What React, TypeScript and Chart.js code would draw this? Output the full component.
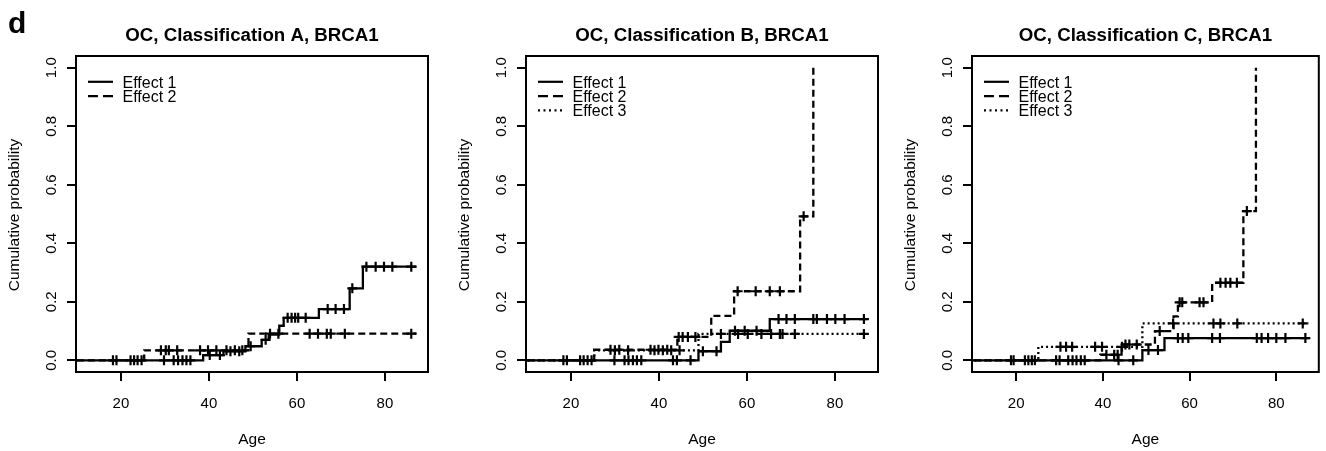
import React, { useEffect, useRef } from "react";
import { Chart, registerables } from "chart.js";
Chart.register(...registerables);

const FONT = "'Liberation Sans', Arial, Helvetica, sans-serif";

// ---- axes ----
const xTicks = [20, 40, 60, 80];
const yTicks = [0, 0.2, 0.4, 0.6, 0.8, 1.0];
const yTickLabels = ["0.0", "0.2", "0.4", "0.6", "0.8", "1.0"];
const effectNames = ["Effect 1", "Effect 2", "Effect 3"];
const panelTitles = [
  "OC, Classification A, BRCA1",
  "OC, Classification B, BRCA1",
  "OC, Classification C, BRCA1",
];

// ---- Panel A ----
const ageA1 = [0, 38.7, 43.3, 48.3, 52.0, 53.6, 56.0, 57.0, 65.0, 72.0, 75.0, 87.2];
const probA1 = [0, 0.018, 0.031, 0.048, 0.07, 0.088, 0.118, 0.145, 0.175, 0.246, 0.32, 0.32];
const censA1 = [18.2, 19.0, 22.2, 23.0, 23.8, 24.7, 29.8, 32.0, 33.0, 34.0, 34.9, 35.8, 40.2, 42.5, 44.9, 46.9, 49.5, 52.9, 57.9, 58.8, 59.6, 60.3, 62.0, 67.0, 68.8, 70.7, 72.6, 75.8, 77.9, 79.8, 81.7, 86.0];
const ageA2 = [0, 25.3, 49.0, 87.2];
const probA2 = [0, 0.034, 0.091, 0.091];
const censA2 = [29.1, 30.2, 30.9, 32.8, 38.0, 39.8, 41.7, 44.0, 45.9, 47.6, 53.9, 55.8, 62.9, 64.8, 66.8, 67.7, 70.9, 86.0];

// ---- Panel B ----
const ageB1 = [0, 49.0, 54.1, 56.1, 65.2, 87.2];
const probB1 = [0, 0.031, 0.063, 0.101, 0.141, 0.141];
const censB1 = [18.3, 19.1, 22.1, 22.9, 23.8, 24.7, 29.9, 32.2, 33.1, 34.1, 35.0, 36.0, 43.2, 44.1, 47.2, 50.0, 53.1, 57.3, 59.5, 62.2, 67.2, 69.0, 70.9, 75.1, 75.9, 78.2, 80.1, 82.2, 86.6];
const ageB2 = [0, 25.3, 44.2, 51.9, 57.1, 72.1, 75.1];
const probB2 = [0, 0.036, 0.08, 0.152, 0.236, 0.492, 1.0];
const censB2 = [29.0, 31.0, 38.1, 39.9, 41.9, 44.5, 45.4, 46.6, 48.3, 57.9, 62.0, 65.2, 67.5, 72.9];
const ageB3 = [0, 25.3, 49.0, 87.0];
const probB3 = [0, 0.034, 0.09, 0.09];
const censB3 = [30.0, 33.0, 39.0, 40.9, 42.8, 44.7, 54.1, 58.0, 60.2, 63.3, 65.5, 67.5, 68.1, 70.9, 86.6];

// ---- Panel C ----
const ageC1 = [0, 49.1, 54.2, 87.4];
const probC1 = [0, 0.035, 0.076, 0.076];
const censC1 = [18.8, 19.4, 22.0, 22.8, 23.6, 24.3, 29.2, 30.0, 32.0, 33.0, 33.9, 34.9, 35.8, 43.6, 47.0, 50.5, 52.7, 57.3, 58.4, 59.7, 65.2, 67.0, 75.5, 76.6, 78.1, 80.0, 82.1, 86.7];
const ageC2 = [0, 39.4, 44.3, 52.0, 56.3, 57.3, 65.2, 72.4, 75.3];
const probC2 = [0, 0.019, 0.054, 0.1, 0.15, 0.198, 0.265, 0.51, 1.0];
const censC2 = [40.8, 42.6, 43.4, 45.2, 46.1, 47.8, 53.1, 57.7, 58.3, 62.3, 63.2, 67.1, 68.3, 69.4, 70.9, 73.2];
const ageC3 = [0, 25.1, 49.1, 87.4];
const probC3 = [0, 0.046, 0.126, 0.126];
const censC3 = [30.2, 31.5, 32.9, 38.2, 39.8, 44.4, 56.2, 65.5, 67.1, 71.0, 86.1];

const curveDash = [[], [7, 4], [2, 3]];
const legendDash = [[], [10, 5], [2, 3.5]];

type Curve = { ages: number[]; probs: number[]; cens: number[] };
type Panel = { title: string; left: number; width: number; plotRight: number; curves: Curve[]; tag?: string };

const panels: Panel[] = [
  {
    title: panelTitles[0], left: 0, width: 450, plotRight: 428, tag: "d",
    curves: [
      { ages: ageA1, probs: probA1, cens: censA1 },
      { ages: ageA2, probs: probA2, cens: censA2 },
    ],
  },
  {
    title: panelTitles[1], left: 450, width: 440, plotRight: 428,
    curves: [
      { ages: ageB1, probs: probB1, cens: censB1 },
      { ages: ageB2, probs: probB2, cens: censB2 },
      { ages: ageB3, probs: probB3, cens: censB3 },
    ],
  },
  {
    title: panelTitles[2], left: 896, width: 430, plotRight: 429,
    curves: [
      { ages: ageC1, probs: probC1, cens: censC1 },
      { ages: ageC2, probs: probC2, cens: censC2 },
      { ages: ageC3, probs: probC3, cens: censC3 },
    ],
  },
];

const H = 451;
const PLOT_LEFT = 76;
const PLOT_TOP = 56;
const PLOT_BOTTOM = 372;

function stepValue(ages: number[], probs: number[], t: number) {
  let v = probs[0];
  for (let i = 0; i < ages.length; i++) {
    if (ages[i] <= t) v = probs[i];
  }
  return v;
}

function PanelChart({ panel }: { panel: Panel }) {
  const ref = useRef<HTMLCanvasElement | null>(null);
  useEffect(() => {
    if (!ref.current) return;
    const datasets: any[] = [];
    panel.curves.forEach((c, i) => {
      datasets.push({
        data: c.ages.map((a, k) => ({ x: a, y: c.probs[k] })),
        stepped: true,
        borderColor: "#000",
        borderWidth: 2.3,
        borderDash: curveDash[i],
        pointRadius: 0,
        fill: false,
        tension: 0,
      });
      datasets.push({
        data: c.cens.map((a) => ({ x: a, y: stepValue(c.ages, c.probs, a) })),
        showLine: false,
        pointStyle: "cross",
        pointRadius: 5,
        pointBorderWidth: 2.2,
        pointBorderColor: "#000",
        borderColor: "#000",
      });
    });

    const frame = {
      id: "frame",
      afterDraw(chart: any) {
        const ctx = chart.ctx;
        const a = chart.chartArea;
        const ys = chart.scales.y;
        ctx.save();
        ctx.strokeStyle = "#000";
        ctx.fillStyle = "#000";
        ctx.lineWidth = 2;
        ctx.setLineDash([]);
        ctx.strokeRect(a.left, a.top, a.right - a.left, a.bottom - a.top);

        // y tick labels (rotated, parallel to axis)
        ctx.font = `15px ${FONT}`;
        ctx.textAlign = "center";
        ctx.textBaseline = "middle";
        yTicks.forEach((v, i) => {
          const py = ys.getPixelForValue(v);
          ctx.save();
          ctx.translate(a.left - 24, py);
          ctx.rotate(-Math.PI / 2);
          ctx.fillText(yTickLabels[i], 0, 0);
          ctx.restore();
        });

        // title
        const cx = (a.left + a.right) / 2;
        ctx.font = `bold 18.7px ${FONT}`;
        ctx.fillText(panel.title, cx, 36);

        // axis titles
        ctx.font = `15.5px ${FONT}`;
        ctx.fillText("Age", cx, 440);
        ctx.save();
        ctx.translate(a.left - 61, 215);
        ctx.rotate(-Math.PI / 2);
        ctx.fillText("Cumulative probability", 0, 0);
        ctx.restore();

        // legend
        const rows = [83.3, 97.6, 111.8];
        panel.curves.forEach((_, i) => {
          const y = rows[i];
          ctx.beginPath();
          ctx.setLineDash(legendDash[i]);
          ctx.lineWidth = 2.2;
          ctx.moveTo(a.left + 12, y - 1.5);
          ctx.lineTo(a.left + 37, y - 1.5);
          ctx.stroke();
          ctx.setLineDash([]);
          ctx.font = `16px ${FONT}`;
          ctx.textAlign = "left";
          ctx.fillText(effectNames[i], a.left + 46.5, y);
          ctx.textAlign = "center";
        });

        if (panel.tag) {
          ctx.font = `bold 30px ${FONT}`;
          ctx.textAlign = "left";
          ctx.textBaseline = "alphabetic";
          ctx.fillText(panel.tag, 8, 33);
        }
        ctx.restore();
      },
    };

    const gridOpts = {
      display: true,
      drawOnChartArea: false,
      drawTicks: true,
      tickLength: 9,
      color: "#000",
      lineWidth: 2,
    };

    const chart = new Chart(ref.current, {
      type: "line",
      data: { datasets },
      options: {
        animation: false,
        responsive: false,
        maintainAspectRatio: false,
        events: [],
        layout: { padding: { left: 0, right: panel.width - panel.plotRight, top: PLOT_TOP, bottom: 0 } },
        plugins: { legend: { display: false }, tooltip: { enabled: false }, title: { display: false } },
        scales: {
          x: {
            type: "linear",
            min: 9.8,
            max: 89.8,
            afterBuildTicks: (s: any) => {
              s.ticks = xTicks.map((v) => ({ value: v }));
            },
            afterFit: (s: any) => {
              s.height = H - PLOT_BOTTOM;
            },
            grid: gridOpts,
            border: { display: false },
            ticks: {
              font: { family: FONT, size: 15 },
              color: "#000",
              padding: 14,
              maxRotation: 0,
              autoSkip: false,
            },
          },
          y: {
            type: "linear",
            min: -0.04,
            max: 1.04,
            afterBuildTicks: (s: any) => {
              s.ticks = yTicks.map((v) => ({ value: v }));
            },
            afterFit: (s: any) => {
              s.width = PLOT_LEFT;
            },
            grid: gridOpts,
            border: { display: false },
            ticks: { display: false },
          },
        },
      } as any,
      plugins: [frame],
    });
    return () => chart.destroy();
  }, [panel]);
  return (
    <canvas
      ref={ref}
      width={panel.width}
      height={H}
      style={{ position: "absolute", left: panel.left, top: 0, width: panel.width, height: H }}
    />
  );
}

export default function App() {
  return (
    <div style={{ position: "absolute", left: 0, top: 0, width: 1326, height: H, overflow: "hidden", background: "#fff" }}>
      {panels.map((p, i) => (
        <PanelChart key={i} panel={p} />
      ))}
    </div>
  );
}
